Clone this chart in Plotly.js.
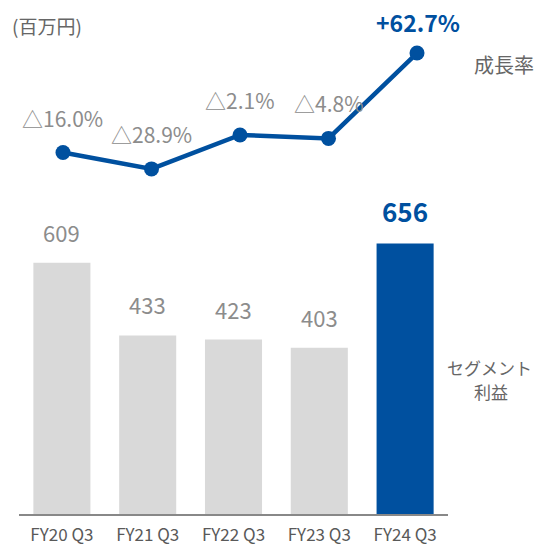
<!DOCTYPE html>
<html><head><meta charset="utf-8">
<script src="https://cdn.plot.ly/plotly-3.0.1.min.js"></script>
<style>html,body{margin:0;padding:0;background:#fff}#c{width:539px;height:549px}</style>
</head><body><div id="c"></div>
<script>
const categories = ['FY20 Q3','FY21 Q3','FY22 Q3','FY23 Q3','FY24 Q3'];
const profit = [609, 433, 423, 403, 656];
const profitLabels = ['609','433','423','403','656'];
const growth = [-16.0, -28.9, -2.1, -4.8, 62.7];
const growthLabels = ['△16.0%','△28.9%','△2.1%','△4.8%','+62.7%'];

const BLUE = '#00509F', GRAY_BAR = '#D9D9D9', LBL = '#8C8C8C', DARK = '#595959';
const FONT = '"Noto Sans CJK JP", "Noto Sans", sans-serif';
const last = categories.length - 1;

const barColors = profit.map((v,i)=> i===last ? BLUE : GRAY_BAR);

const traces = [
  {type:'bar', x:categories, y:profit, marker:{color:barColors}, width:0.665,
   xaxis:'x', yaxis:'y', hoverinfo:'skip'},
  {type:'scatter', mode:'lines+markers', x:categories, y:growth,
   line:{color:BLUE, width:4.5}, marker:{color:BLUE, size:15},
   xaxis:'x2', yaxis:'y2', hoverinfo:'skip'}
];

const annotations = [];
profit.forEach((v,i)=>{
  const hi = i===last;
  annotations.push({x:categories[i], y:v, xref:'x', yref:'y', text:profitLabels[i],
    showarrow:false, yshift: hi?33:31, yanchor:'middle',
    font:{family:FONT, size: hi?26:22, color: hi?BLUE:LBL, weight: hi?'bold':'normal'}});
});
growth.forEach((v,i)=>{
  const hi = i===last;
  annotations.push({x:categories[i], y:v, xref:'x2', yref:'y2', text:growthLabels[i],
    showarrow:false, yshift: hi?31:35, yanchor:'middle', xshift: hi?1:0,
    font:{family:FONT, size: hi?23:21, color: hi?BLUE:LBL, weight: hi?'bold':'normal'}});
});
annotations.push(
  {xref:'paper', yref:'paper', x:-0.02, y:1, xanchor:'left', yanchor:'middle', yshift:-25, showarrow:false,
   text:'(百万円)', font:{family:FONT, size:19, color:'#666666'}},
  {xref:'paper', yref:'paper', x:1.0, y:1, xanchor:'left', yanchor:'middle', xshift:24, yshift:-64,
   showarrow:false, text:'成長率', font:{family:FONT, size:20, color:'#666666'}},
  {xref:'paper', yref:'paper', x:1.0, y:0, xanchor:'left', yanchor:'middle', xshift:-3, yshift:147,
   showarrow:false, text:'セグメント', font:{family:FONT, size:17, color:'#666666'}},
  {xref:'paper', yref:'paper', x:1.0, y:0, xanchor:'left', yanchor:'middle', xshift:24, yshift:123,
   showarrow:false, text:'利益', font:{family:FONT, size:17, color:'#666666'}}
);

const layout = {
  width:539, height:549,
  margin:{l:19, r:91, t:0, b:35},
  paper_bgcolor:'#fff', plot_bgcolor:'#fff',
  showlegend:false,
  font:{family:FONT},
  xaxis:{type:'category', showgrid:false, zeroline:false, showline:true, linecolor:'#888888', linewidth:2,
    ticks:'', ticklabelstandoff:5, tickfont:{family:FONT, size:17, color:DARK}, fixedrange:true},
  yaxis:{range:[0,1246], visible:false, showgrid:false, zeroline:false, fixedrange:true},
  xaxis2:{type:'category', overlaying:'x', range:[-0.497, 4.35], visible:false, showgrid:false, zeroline:false},
  yaxis2:{overlaying:'y', range:[-301.7, 104.6], visible:false, showgrid:false, zeroline:false},
  bargap:0.335,
  annotations:annotations
};

Plotly.newPlot('c', traces, layout, {displayModeBar:false, staticPlot:true});
</script>
</body></html>
